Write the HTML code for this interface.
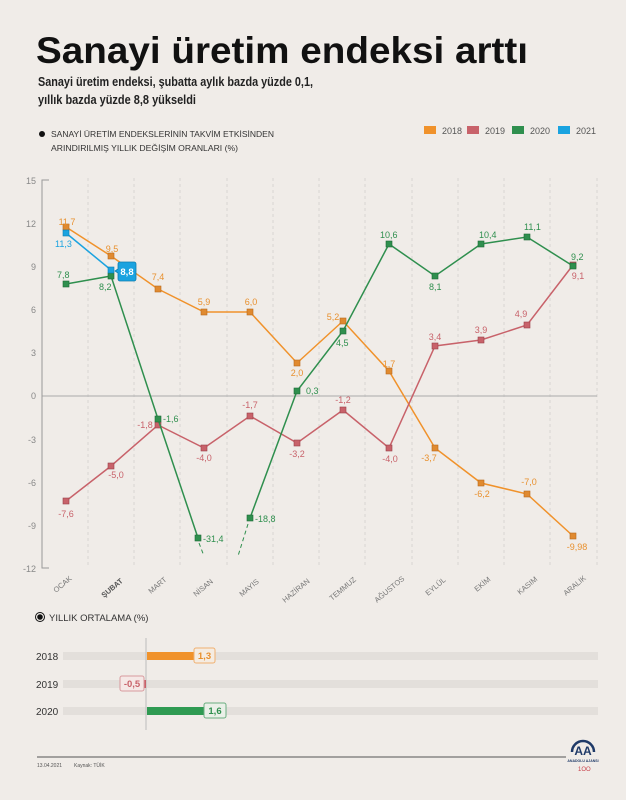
<!DOCTYPE html>
<html><head><meta charset="utf-8"><style>
html,body{margin:0;padding:0;background:#f0ece8;}
body{width:626px;height:795px;overflow:hidden;font-family:"Liberation Sans",sans-serif;}
</style></head><body>
<svg width="626" height="795" viewBox="0 0 626 795" xmlns="http://www.w3.org/2000/svg" font-family="Liberation Sans, sans-serif">
<rect width="626" height="795" fill="#f0ece8"/>
<text x="36" y="63" font-size="37" font-weight="bold" fill="#111" textLength="492" lengthAdjust="spacingAndGlyphs">Sanayi üretim endeksi arttı</text>
<text x="38" y="86" font-size="12.5" font-weight="bold" fill="#222" textLength="275" lengthAdjust="spacingAndGlyphs">Sanayi üretim endeksi, şubatta aylık bazda yüzde 0,1,</text>
<text x="38" y="104" font-size="12.5" font-weight="bold" fill="#222" textLength="158" lengthAdjust="spacingAndGlyphs">yıllık bazda yüzde 8,8 yükseldi</text>
<circle cx="42" cy="134" r="3" fill="#111"/>
<text x="51" y="137" font-size="8.5" fill="#333" textLength="223" lengthAdjust="spacingAndGlyphs">SANAYİ ÜRETİM ENDEKSLERİNİN TAKVİM ETKİSİNDEN</text>
<text x="51" y="151" font-size="8.5" fill="#333" textLength="187" lengthAdjust="spacingAndGlyphs">ARINDIRILMIŞ YILLIK DEĞİŞİM ORANLARI (%)</text>
<g font-size="9" fill="#555">
<rect x="424" y="126" width="12" height="8" fill="#f0922b"/><text x="442" y="134">2018</text>
<rect x="467" y="126" width="12" height="8" fill="#c8626a"/><text x="485" y="134">2019</text>
<rect x="512" y="126" width="12" height="8" fill="#2f8f4e"/><text x="530" y="134">2020</text>
<rect x="558" y="126" width="12" height="8" fill="#1aa3e0"/><text x="576" y="134">2021</text>
</g>
<!-- grid -->
<g stroke="#d4d0cc" stroke-width="0.8" stroke-dasharray="3,3">
<line x1="88" y1="178" x2="88" y2="568"/><line x1="134" y1="178" x2="134" y2="568"/><line x1="180" y1="178" x2="180" y2="568"/><line x1="227" y1="178" x2="227" y2="568"/><line x1="273" y1="178" x2="273" y2="568"/><line x1="319" y1="178" x2="319" y2="568"/><line x1="365" y1="178" x2="365" y2="568"/><line x1="412" y1="178" x2="412" y2="568"/><line x1="458" y1="178" x2="458" y2="568"/><line x1="504" y1="178" x2="504" y2="568"/><line x1="550" y1="178" x2="550" y2="568"/><line x1="597" y1="178" x2="597" y2="568"/>
</g>
<line x1="42" y1="396" x2="597" y2="396" stroke="#aaa" stroke-width="1"/>
<path d="M49 180H42V568H49" fill="none" stroke="#999" stroke-width="1"/>
<g font-size="9" fill="#888" text-anchor="end">
<text x="36" y="184">15</text><text x="36" y="227">12</text><text x="36" y="270">9</text><text x="36" y="313">6</text><text x="36" y="356">3</text><text x="36" y="399">0</text><text x="36" y="443">-3</text><text x="36" y="486">-6</text><text x="36" y="529">-9</text><text x="36" y="572">-12</text>
</g>
<g font-size="7.5" fill="#777">
<text transform="translate(56,593) rotate(-40)">OCAK</text>
<text transform="translate(104,598) rotate(-40)" font-weight="bold" fill="#555">ŞUBAT</text>
<text transform="translate(151,594) rotate(-40)">MART</text>
<text transform="translate(196,597) rotate(-40)">NİSAN</text>
<text transform="translate(242,597) rotate(-40)">MAYIS</text>
<text transform="translate(285,603) rotate(-40)">HAZİRAN</text>
<text transform="translate(332,601) rotate(-40)">TEMMUZ</text>
<text transform="translate(377,603) rotate(-40)">AĞUSTOS</text>
<text transform="translate(428,596) rotate(-40)">EYLÜL</text>
<text transform="translate(477,592) rotate(-40)">EKİM</text>
<text transform="translate(520,595) rotate(-40)">KASIM</text>
<text transform="translate(566,596) rotate(-40)">ARALIK</text>
</g>
<!-- 2018 -->
<polyline fill="none" stroke="#f0922b" stroke-width="1.5" points="66,227 111,256 158,289 204,312 250,312 297,363 343,321 389,371 435,448 481,483 527,494 573,536"/>
<g fill="#e08a30" stroke="#b86a1c" stroke-width="0.6">
<rect x="63" y="224" width="6" height="6"/><rect x="108" y="253" width="6" height="6"/><rect x="155" y="286" width="6" height="6"/><rect x="201" y="309" width="6" height="6"/><rect x="247" y="309" width="6" height="6"/><rect x="294" y="360" width="6" height="6"/><rect x="340" y="318" width="6" height="6"/><rect x="386" y="368" width="6" height="6"/><rect x="432" y="445" width="6" height="6"/><rect x="478" y="480" width="6" height="6"/><rect x="524" y="491" width="6" height="6"/><rect x="570" y="533" width="6" height="6"/>
</g>
<g font-size="9" fill="#e8902e" text-anchor="middle">
<text x="67" y="225">11,7</text><text x="112" y="252">9,5</text><text x="158" y="280">7,4</text><text x="204" y="305">5,9</text><text x="251" y="305">6,0</text><text x="297" y="376">2,0</text><text x="333" y="320">5,2</text><text x="389" y="367">1,7</text><text x="429" y="461">-3,7</text><text x="482" y="497">-6,2</text><text x="529" y="485">-7,0</text><text x="577" y="550">-9,98</text>
</g>
<!-- 2019 -->
<polyline fill="none" stroke="#c8626a" stroke-width="1.5" points="66,501 111,466 158,425 204,448 250,416 297,443 343,410 389,448 435,346 481,340 527,325 573,265"/>
<g fill="#c8626a" stroke="#9a4048" stroke-width="0.6">
<rect x="63" y="498" width="6" height="6"/><rect x="108" y="463" width="6" height="6"/><rect x="155" y="422" width="6" height="6"/><rect x="201" y="445" width="6" height="6"/><rect x="247" y="413" width="6" height="6"/><rect x="294" y="440" width="6" height="6"/><rect x="340" y="407" width="6" height="6"/><rect x="386" y="445" width="6" height="6"/><rect x="432" y="343" width="6" height="6"/><rect x="478" y="337" width="6" height="6"/><rect x="524" y="322" width="6" height="6"/><rect x="570" y="262" width="6" height="6"/>
</g>
<g font-size="9" fill="#c8626a" text-anchor="middle">
<text x="66" y="517">-7,6</text><text x="116" y="478">-5,0</text><text x="145" y="428">-1,8</text><text x="204" y="461">-4,0</text><text x="250" y="408">-1,7</text><text x="297" y="457">-3,2</text><text x="343" y="403">-1,2</text><text x="390" y="462">-4,0</text><text x="435" y="340">3,4</text><text x="481" y="333">3,9</text><text x="521" y="317">4,9</text><text x="578" y="279">9,1</text>
</g>
<!-- 2020 -->
<polyline fill="none" stroke="#2f8f4e" stroke-width="1.5" points="66,284 111,276 158,419 198,538"/>
<polyline fill="none" stroke="#2f8f4e" stroke-width="1.5" points="250,518 297,391 343,331 389,244 435,276 481,244 527,237 573,266"/>
<g stroke="#2f8f4e" stroke-width="1" stroke-dasharray="4,3"><line x1="199" y1="543" x2="204" y2="556"/><line x1="248" y1="524" x2="238" y2="556"/></g>
<g fill="#2f8f4e" stroke="#1d6a36" stroke-width="0.6">
<rect x="63" y="281" width="6" height="6"/><rect x="108" y="273" width="6" height="6"/><rect x="155" y="416" width="6" height="6"/><rect x="195" y="535" width="6" height="6"/><rect x="247" y="515" width="6" height="6"/><rect x="294" y="388" width="6" height="6"/><rect x="340" y="328" width="6" height="6"/><rect x="386" y="241" width="6" height="6"/><rect x="432" y="273" width="6" height="6"/><rect x="478" y="241" width="6" height="6"/><rect x="524" y="234" width="6" height="6"/><rect x="570" y="263" width="6" height="6"/>
</g>
<g font-size="9" fill="#2f8f4e">
<text x="57" y="278">7,8</text><text x="99" y="290">8,2</text><text x="163" y="422">-1,6</text><text x="203" y="542">-31,4</text><text x="255" y="522">-18,8</text><text x="306" y="394">0,3</text><text x="336" y="346">4,5</text><text x="380" y="238">10,6</text><text x="429" y="290">8,1</text><text x="479" y="238">10,4</text><text x="524" y="230">11,1</text><text x="571" y="260">9,2</text>
</g>
<!-- 2021 -->
<polyline fill="none" stroke="#1aa3e0" stroke-width="1.5" points="66,233 111,270"/>
<g fill="#1aa3e0" stroke="#0e7fb0" stroke-width="0.6"><rect x="63" y="230" width="6" height="6"/><rect x="108" y="267" width="6" height="6"/></g>
<text x="55" y="247" font-size="9" fill="#1aa3e0">11,3</text>
<path d="M120 262h14a2 2 0 0 1 2 2v15a2 2 0 0 1-2 2h-14a2 2 0 0 1-2-2v-6l-3-2 3-2v-5a2 2 0 0 1 2-2z" fill="#1aa3e0" stroke="#0e7fb0" stroke-width="0.8"/>
<text x="127" y="275" font-size="9.5" font-weight="bold" fill="#fff" text-anchor="middle">8,8</text>
<!-- bottom -->
<circle cx="40" cy="617" r="4.5" fill="none" stroke="#111" stroke-width="1"/><circle cx="40" cy="617" r="2.8" fill="#111"/>
<text x="49" y="621" font-size="9.5" fill="#333">YILLIK ORTALAMA (%)</text>
<g fill="#e3dfdb"><rect x="63" y="652" width="535" height="8"/><rect x="63" y="680" width="535" height="8"/><rect x="63" y="707" width="535" height="8"/></g>
<line x1="146" y1="638" x2="146" y2="730" stroke="#bbb" stroke-width="1"/>
<g font-size="10" fill="#333"><text x="36" y="660">2018</text><text x="36" y="688">2019</text><text x="36" y="715">2020</text></g>
<rect x="147" y="652" width="47" height="8" fill="#f0922b"/>
<rect x="194" y="648" width="21" height="15" rx="2" fill="#f5ece2" stroke="#f0b070"/>
<text x="204.5" y="659" font-size="9.5" font-weight="bold" fill="#e8902e" text-anchor="middle">1,3</text>
<rect x="144" y="680" width="2" height="8" fill="#c8626a"/>
<rect x="120" y="676" width="24" height="15" rx="2" fill="#f5e8e6" stroke="#d89a9e"/>
<text x="132" y="687" font-size="9.5" font-weight="bold" fill="#c8626a" text-anchor="middle">-0,5</text>
<rect x="147" y="707" width="57" height="8" fill="#2f9a52"/>
<rect x="204" y="703" width="22" height="15" rx="2" fill="#eaf0e8" stroke="#6aae80"/>
<text x="215" y="714" font-size="9.5" font-weight="bold" fill="#2f8f4e" text-anchor="middle">1,6</text>
<line x1="37" y1="757" x2="566" y2="757" stroke="#555" stroke-width="1"/>
<text x="37" y="767" font-size="5" fill="#555">13.04.2021</text>
<text x="74" y="767" font-size="5" fill="#555">Kaynak: TÜİK</text>
<path d="M572 752a11 11 0 0 1 22 0" fill="none" stroke="#1f3a68" stroke-width="2.5"/>
<text x="583" y="755" font-size="12" font-weight="bold" fill="#1f3a68" text-anchor="middle">AA</text>
<text x="583" y="762" font-size="3.5" font-weight="bold" fill="#1f3a68" text-anchor="middle">ANADOLU AJANSI</text>
<text x="578" y="771" font-size="6" fill="#c8404a">1OO</text>
</svg>
</body></html>
